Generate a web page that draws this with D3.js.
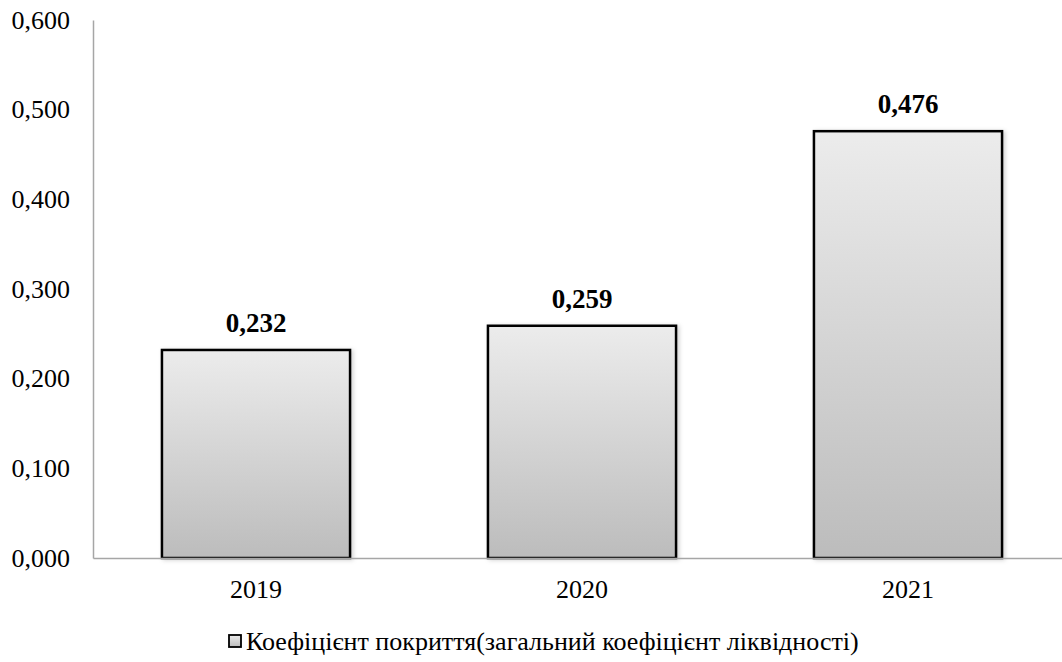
<!DOCTYPE html>
<html>
<head>
<meta charset="utf-8">
<script src="https://cdn.jsdelivr.net/npm/d3@7"></script>
<style>
  html, body { margin: 0; padding: 0; background: #fff; }
  svg { display: block; }
  svg text { font-family: "Liberation Serif", "Times New Roman", Times, serif; }
</style>
</head>
<body>
<svg id="chart" width="1062" height="662"></svg>
<script>
// Coverage ratio by year
const years = ["2019", "2020", "2021"];
const coverage = [0.232, 0.259, 0.476];
const yTicks = [0, 0.1, 0.2, 0.3, 0.4, 0.5, 0.6];
const legendLabel = "Коефіцієнт покриття(загальний коефіцієнт ліквідності)";

const svg = d3.select("#chart");
const plot = { left: 93, right: 1071, top: 20, bottom: 558 };

const fmt = v => d3.format(".3f")(v).replace(".", ",");

const x = d3.scaleBand()
  .domain(years)
  .range([plot.left, plot.right])
  .paddingInner(0.423)
  .paddingOuter(0.2115);

const y = d3.scaleLinear()
  .domain([0, 0.6])
  .range([plot.bottom, plot.top]);

// Gradient fill and soft shadow for bars
const defs = svg.append("defs");
const grad = defs.append("linearGradient")
  .attr("id", "barGrad")
  .attr("x1", 0).attr("y1", 0).attr("x2", 0).attr("y2", 1);
grad.append("stop").attr("offset", "0%").attr("stop-color", "#ececec");
grad.append("stop").attr("offset", "100%").attr("stop-color", "#bcbcbc");

const shadow = defs.append("filter").attr("id", "barShadow")
  .attr("x", "-10%").attr("y", "-10%").attr("width", "120%").attr("height", "120%");
shadow.append("feDropShadow")
  .attr("dx", 2).attr("dy", 1).attr("stdDeviation", 2)
  .attr("flood-color", "#000").attr("flood-opacity", 0.18);

// Y axis: labels only, vertical line
const yAxis = d3.axisLeft(y)
  .tickValues(yTicks)
  .tickFormat(fmt)
  .tickSize(0)
  .tickPadding(23);

const gy = svg.append("g")
  .attr("transform", `translate(${plot.left},0)`)
  .call(yAxis)
  .attr("font-family", null);
gy.select(".domain").attr("stroke", "#a6a6a6").attr("stroke-width", 1.5);
gy.selectAll("text")
  .attr("font-size", 26)
  .attr("fill", "#000");

// Bars
svg.append("g")
  .selectAll("rect")
  .data(years)
  .join("rect")
  .attr("x", d => x(d))
  .attr("y", (d, i) => y(coverage[i]))
  .attr("width", x.bandwidth())
  .attr("height", (d, i) => y(0) - y(coverage[i]))
  .attr("fill", "url(#barGrad)")
  .attr("stroke", "#000")
  .attr("stroke-width", 2.5)
  .attr("filter", "url(#barShadow)");

// X axis baseline and year labels
const xAxis = d3.axisBottom(x).tickSize(0).tickPadding(22);
const gx = svg.append("g")
  .attr("transform", `translate(0,${plot.bottom})`)
  .call(xAxis)
  .attr("font-family", null);
gx.select(".domain").attr("stroke", "#a6a6a6").attr("stroke-width", 1.5);
gx.selectAll("text")
  .attr("font-size", 26)
  .attr("fill", "#000");

// Value labels above bars
svg.append("g")
  .selectAll("text")
  .data(years)
  .join("text")
  .attr("x", d => x(d) + x.bandwidth() / 2)
  .attr("y", (d, i) => y(coverage[i]) - 18)
  .attr("text-anchor", "middle")
  .attr("font-weight", "bold")
  .attr("font-size", 27)
  .attr("fill", "#000")
  .text((d, i) => fmt(coverage[i]));

// Legend
const legend = svg.append("g").attr("transform", "translate(229,641)");
legend.append("rect")
  .attr("x", 0).attr("y", -6)
  .attr("width", 12).attr("height", 12)
  .attr("fill", "url(#barGrad)")
  .attr("stroke", "#000")
  .attr("stroke-width", 1.8);
legend.append("text")
  .attr("x", 17)
  .attr("y", 0)
  .attr("dy", "0.35em")
  .attr("font-size", 26)
  .attr("fill", "#000")
  .text(legendLabel);
</script>
</body>
</html>
